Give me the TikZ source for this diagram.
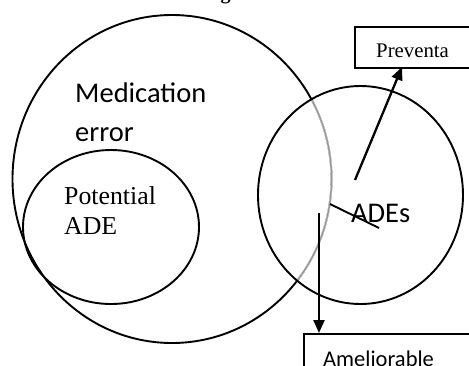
\documentclass[tikz,border=0pt]{standalone}
\usepackage{fontspec}
\setmainfont{Liberation Serif}
\newfontfamily\calib{Carlito}
\usetikzlibrary{arrows.meta}
\tikzset{
  outline/.style={line width=1.9pt, draw=black},
  conn/.style={line width=2.3pt, -{Triangle[length=13pt,width=11pt]}},
  boxnode/.style={draw, line width=1.9pt, inner sep=0pt, anchor=north west},
  sanslabel/.style={anchor=base west, inner sep=0pt, font=\calib\fontsize{28.5}{31}\selectfont},
  seriflabel/.style={anchor=base west, inner sep=0pt, font=\fontsize{25.8}{28}\selectfont},
}
\begin{document}
\begin{tikzpicture}[x=1pt, y=-1pt]
\useasboundingbox (0,0) rectangle (469,365);
% clipped title glyph
\node[anchor=base, inner sep=0pt, font=\bfseries\fontsize{20}{22}\selectfont] (title) at (225.5,-1) {g};
% big circle: medication error
\coordinate (mecenter) at (172,179);
\draw[outline] (mecenter) ellipse [x radius=159.5pt, y radius=164pt];
% ADE circle
\coordinate (adecenter) at (360.5,195);
\begin{scope}
  \clip (adecenter) ellipse [x radius=101.5pt, y radius=108pt];
  \draw[line width=2.2pt, draw=white] (mecenter) ellipse [x radius=159.5pt, y radius=164pt];
  \draw[line width=1.6pt, draw=black!40] (mecenter) ellipse [x radius=159.5pt, y radius=164pt];
\end{scope}
\draw[outline] (adecenter) ellipse [x radius=102.5pt, y radius=109pt];
% potential ADE ellipse
\coordinate (pcenter) at (111,227);
\draw[outline] (pcenter) ellipse [x radius=88pt, y radius=77pt];
% labels
\node[sanslabel] (med) at (75,102) {Medication};
\node[sanslabel] (err) at (75,141) {error};
\node[seriflabel] (pot) at (64,204) {Potential};
\node[seriflabel] (pade) at (64,234) {ADE};
\node[sanslabel] (ades) at (351,222) {ADEs};
% boxes
\node[boxnode, minimum width=130pt, minimum height=41pt] (prev) at (354,26) {};
\node[anchor=base west, inner sep=0pt, font=\fontsize{20.8}{23}\selectfont] (prevtext) at (376,57) {Preventa};
\node[boxnode, minimum width=180pt, minimum height=60pt] (amel) at (303,333) {};
\node[anchor=base west, inner sep=0pt, font=\calib\fontsize{22.5}{25}\selectfont] (ameltext) at (323,366.5) {Ameliorable};
% connectors
\coordinate (slashA) at (330,204);
\coordinate (slashB) at (379,228);
\draw[line width=1.9pt] (slashA) -- (slashB);
\coordinate (upstart) at (355,180);
\coordinate (upend) at (402,67);
\draw[conn] (upstart) -- (upend);
\coordinate (downstart) at (319,213);
\coordinate (downend) at (319,333);
\draw[conn] (downstart) -- (downend);
\end{tikzpicture}
\end{document}
